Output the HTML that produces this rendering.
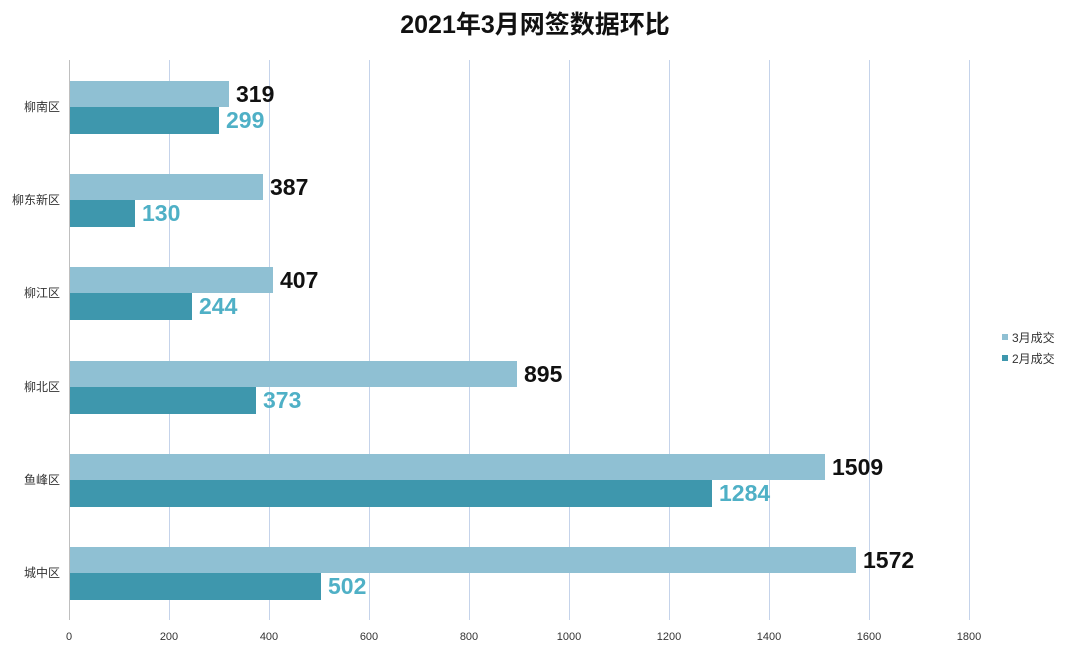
<!DOCTYPE html>
<html><head><meta charset="utf-8"><style>
body{margin:0;background:#fff;}
svg{display:block;font-family:"Liberation Sans","Noto Sans CJK SC",sans-serif;}
</style></head><body>
<svg width="1073" height="651" viewBox="0 0 1073 651">
<rect width="1073" height="651" fill="#fff"/>
<text x="535" y="33" text-anchor="middle" font-size="25" font-weight="bold" fill="#111">2021年3月网签数据环比</text>
<g stroke="#c5d3ea" stroke-width="1">
<line x1="169.5" y1="60" x2="169.5" y2="620"/>
<line x1="269.5" y1="60" x2="269.5" y2="620"/>
<line x1="369.5" y1="60" x2="369.5" y2="620"/>
<line x1="469.5" y1="60" x2="469.5" y2="620"/>
<line x1="569.5" y1="60" x2="569.5" y2="620"/>
<line x1="669.5" y1="60" x2="669.5" y2="620"/>
<line x1="769.5" y1="60" x2="769.5" y2="620"/>
<line x1="869.5" y1="60" x2="869.5" y2="620"/>
<line x1="969.5" y1="60" x2="969.5" y2="620"/>
</g>
<line x1="69.5" y1="60" x2="69.5" y2="620" stroke="#bfbfbf"/>
<g font-size="11" fill="#333" text-anchor="middle">
<text x="69" y="640">0</text><text x="169" y="640">200</text><text x="269" y="640">400</text><text x="369" y="640">600</text><text x="469" y="640">800</text><text x="569" y="640">1000</text><text x="669" y="640">1200</text><text x="769" y="640">1400</text><text x="869" y="640">1600</text><text x="969" y="640">1800</text>
</g>
<g font-size="12" fill="#333" text-anchor="end">
<text x="60" y="111">柳南区</text><text x="60" y="204">柳东新区</text><text x="60" y="297">柳江区</text><text x="60" y="391">柳北区</text><text x="60" y="484">鱼峰区</text><text x="60" y="577">城中区</text>
</g>
<g fill="#8fc0d3">
<rect x="70" y="81" width="159" height="26"/>
<rect x="70" y="174" width="193" height="26"/>
<rect x="70" y="267" width="203" height="26"/>
<rect x="70" y="361" width="447" height="26"/>
<rect x="70" y="454" width="755" height="26"/>
<rect x="70" y="547" width="786" height="26"/>
</g>
<g fill="#3e97ad">
<rect x="70" y="107" width="149" height="27"/>
<rect x="70" y="200" width="65" height="27"/>
<rect x="70" y="293" width="122" height="27"/>
<rect x="70" y="387" width="186" height="27"/>
<rect x="70" y="480" width="642" height="27"/>
<rect x="70" y="573" width="251" height="27"/>
</g>
<g font-size="23" font-weight="bold" fill="#111">
<text x="236" y="102">319</text><text x="270" y="195">387</text><text x="280" y="288">407</text><text x="524" y="382">895</text><text x="832" y="475">1509</text><text x="863" y="568">1572</text>
</g>
<g font-size="23" font-weight="bold" fill="#4fb0c6">
<text x="226" y="128">299</text><text x="142" y="221">130</text><text x="199" y="314">244</text><text x="263" y="408">373</text><text x="719" y="501">1284</text><text x="328" y="594">502</text>
</g>
<rect x="1002" y="334" width="6" height="6" fill="#8fc0d3"/>
<text x="1012" y="342" font-size="12" fill="#333">3月成交</text>
<rect x="1002" y="355" width="6" height="6" fill="#3e97ad"/>
<text x="1012" y="363" font-size="12" fill="#333">2月成交</text>
</svg>
</body></html>
